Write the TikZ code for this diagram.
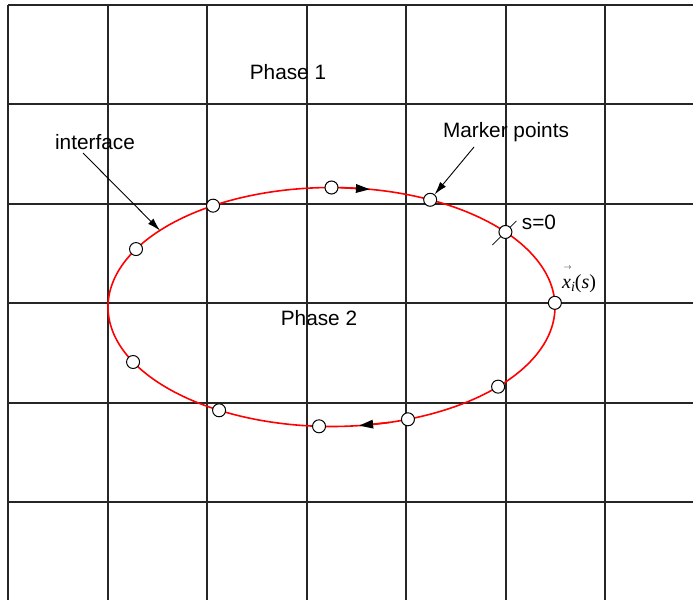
\documentclass[tikz,border=0pt]{standalone}
\usepackage{graphicx}
\usepackage{fontspec}
\setmainfont{Liberation Sans}
\newfontfamily\tms{Liberation Serif}
\usetikzlibrary{arrows.meta,calc}
\begin{document}
\begin{tikzpicture}[x=1pt,y=-1pt,
  grid/.style={line width=1.1pt,black!85},
  curve/.style={red,line width=1.6pt},
  marker/.style={circle,draw,fill=white,minimum size=13pt,inner sep=0pt,line width=1pt},
  lbl/.style={font=\fontsize{20.8}{24}\selectfont,inner sep=0pt},
  callout/.style={-{Latex[length=13pt,width=7.5pt]},line width=0.9pt},
  flowtip/.style={curve,-{Triangle[length=14pt,width=8.5pt,black]}}]
\useasboundingbox (0,0) rectangle (693,600);
% grid
\foreach \x in {8,108,207,307,406,506,605} \draw[grid] (\x,5) -- (\x,600);
\foreach \y in {5,104,204,303,403,502} \draw[grid] (8,\y) -- (693,\y);
% marker positions on the interface
\foreach \t [count=\i] in {-90,-63.8,-38.9,-2,41.8,70,93.2,120.2,152.6,-151,-122}
  \coordinate (p\i) at ({331.5+223.5*cos(\t)},{307+119.5*sin(\t)});
\foreach \t/\n in {-88/a1,-80.1/a2,75/a3,82.9/a4}
  \coordinate (\n) at ({331.5+223.5*cos(\t)},{307+119.5*sin(\t)});
% interface
\draw[curve] plot[domain=0:360,samples=180,smooth cycle] ({331.5+223.5*cos(\x)},{307+119.5*sin(\x)});
\draw[flowtip] (a1) -- (a2);
\draw[flowtip] (a3) -- (a4);
% s=0 tick
\coordinate (tk1) at ($(p3)+(-13,13)$);
\coordinate (tk2) at ($(p3)+(11,-11)$);
\draw[line width=0.8pt] (tk1) -- (tk2);
% markers
\foreach \i in {1,...,11} \node[marker] (m\i) at (p\i) {};
% labels
\node[lbl] (ph1) at (288,72) {Phase 1};
\node[lbl] (ph2) at (319,318) {Phase 2};
\node[lbl] (intf) at (95,142) {interface};
\node[lbl] (mp) at (506,132) {Marker points};
\node[lbl] (s0) at (539,222) {s=0};
\node[inner sep=0pt,anchor=base west] (xi) at (562,288)
  {\makebox[0pt][l]{\hspace{1.5pt}\raisebox{19pt}{\resizebox{8pt}{!}{$\rightarrow$}}}%
   {\tms\fontsize{20}{22}\selectfont\itshape x}\raisebox{-0.3em}{\tms\fontsize{14}{16}\selectfont\itshape i}{\tms\fontsize{20}{22}\selectfont(\itshape s\upshape)}};
% callouts
\coordinate (is) at (83,153);
\coordinate (it) at (160,230.5);
\draw[callout] (is) -- (it);
\coordinate (ms) at (474,147);
\draw[callout] (ms) -- (m2);
\end{tikzpicture}
\end{document}
